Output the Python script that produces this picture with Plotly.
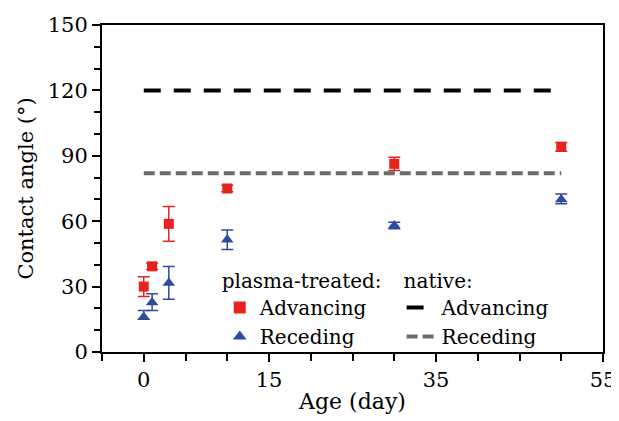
import plotly.graph_objects as go

# plasma-treated samples
age = [0, 1, 3, 10, 30, 50]
adv = [30, 39.3, 58.8, 75, 86.3, 94.1]
adv_err = [4.5, 1.5, 8, 1.5, 3, 2]
rec = [16, 22.7, 31.7, 51.5, 58, 70]
rec_err_up = [3, 4, 7.5, 4.5, 1.5, 2.5]
rec_err_down = [1, 3.7, 7.5, 4.5, 1.5, 2]

# native samples (constant)
native_x = [0, 50]
native_adv = [120, 120]
native_rec = [82, 82]

RED = "#e8231f"
BLUE = "#2f4b9f"
FONT = "DejaVu Serif"

fig = go.Figure()

fig.add_trace(go.Scatter(
    x=age, y=adv, mode="markers", name="Advancing", legend="legend",
    marker=dict(symbol="square", size=10, color=RED),
    error_y=dict(type="data", array=adv_err, color=RED, thickness=1.5, width=6)))
fig.add_trace(go.Scatter(
    x=age, y=rec, mode="markers", name="Receding", legend="legend",
    marker=dict(symbol="triangle-up", size=11, color=BLUE),
    error_y=dict(type="data", array=rec_err_up, arrayminus=rec_err_down,
                 color=BLUE, thickness=1.5, width=6)))

fig.add_trace(go.Scatter(
    x=native_x, y=native_adv, mode="lines", name="Advancing", legend="legend2",
    line=dict(color="black", width=4, dash="17px,13px")))
fig.add_trace(go.Scatter(
    x=native_x, y=native_rec, mode="lines", name="Receding", legend="legend2",
    line=dict(color="#6b6b6b", width=4, dash="11px,5px")))

axis_common = dict(showline=True, linecolor="black", linewidth=2, mirror=True,
                   ticks="outside", tickcolor="black", tickwidth=1.5, ticklen=8,
                   showgrid=False, zeroline=False, automargin=False,
                   tickfont=dict(family=FONT, size=21, color="black"))

fig.update_xaxes(range=[-5, 55], tickvals=[0, 15, 35, 55],
                 minor=dict(tick0=-5, dtick=5, ticks="outside", ticklen=7,
                            tickcolor="black", tickwidth=1.5),
                 title=dict(text="Age (day)", font=dict(family=FONT, size=22, color="black"),
                            standoff=2),
                 **axis_common)
fig.update_yaxes(range=[0, 150], tickvals=[0, 30, 60, 90, 120, 150],
                 minor=dict(dtick=10, ticks="outside", ticklen=6,
                            tickcolor="black", tickwidth=1.5),
                 title=dict(text="Contact angle (°)", font=dict(family=FONT, size=21, color="black"),
                            standoff=8),
                 **axis_common)

legend_font = dict(family=FONT, size=20, color="black")
fig.update_layout(
    width=611, height=413,
    margin=dict(l=94, r=16, t=17, b=69),
    font=dict(family=FONT, color="black"),
    plot_bgcolor="white", paper_bgcolor="white",
    legend=dict(x=0.235, y=0.275, xanchor="left", yanchor="top",
                bgcolor="rgba(0,0,0,0)", font=legend_font,
                title=dict(text="plasma-treated:", font=legend_font, side="top"),
                tracegroupgap=0, itemsizing="constant"),
    legend2=dict(x=0.598, y=0.275, xanchor="left", yanchor="top",
                 bgcolor="rgba(0,0,0,0)", font=legend_font,
                 title=dict(text="native:", font=legend_font, side="top"),
                 tracegroupgap=0),
)

fig.write_html("out.html")
